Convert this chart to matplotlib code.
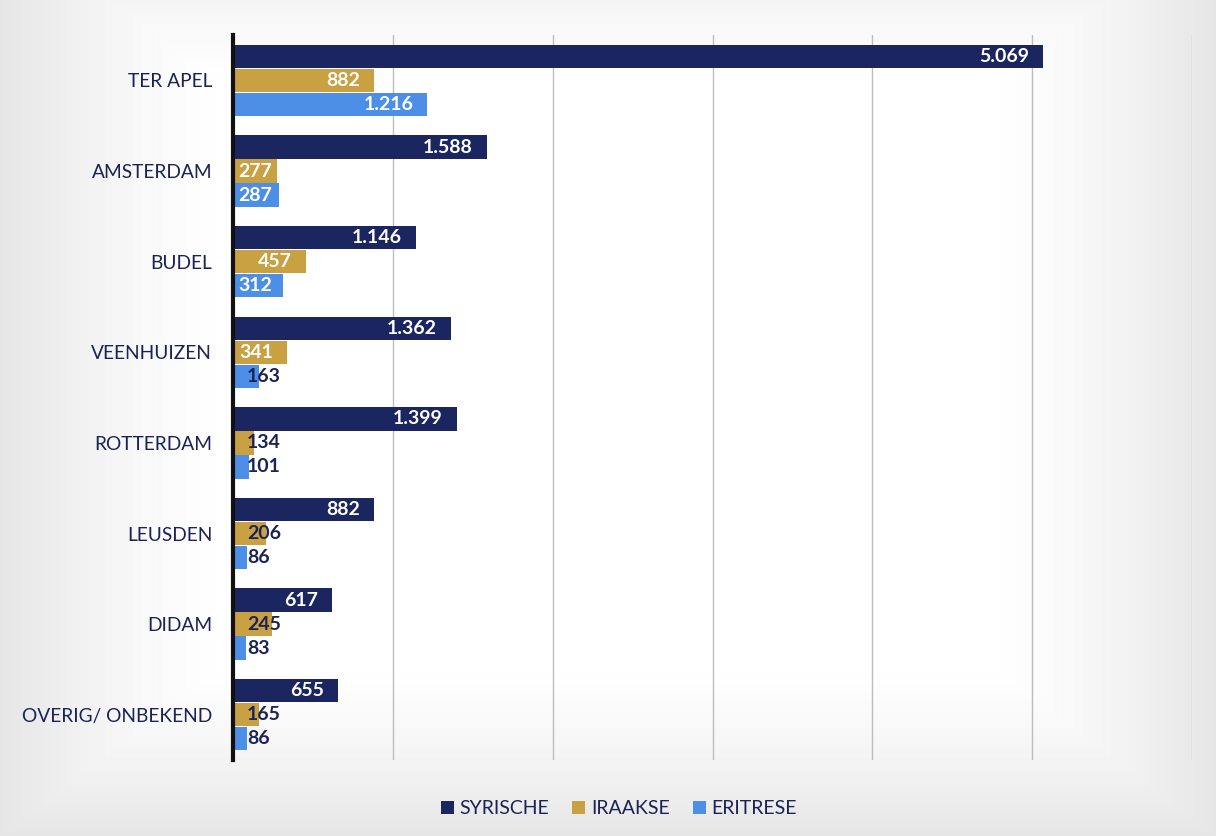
import matplotlib
matplotlib.use('Agg')
import matplotlib.pyplot as plt
import numpy as np

locaties = ['TER APEL', 'AMSTERDAM', 'BUDEL', 'VEENHUIZEN', 'ROTTERDAM',
            'LEUSDEN', 'DIDAM', 'OVERIG/ ONBEKEND']
syrische = [5069, 1588, 1146, 1362, 1399, 882, 617, 655]
iraakse = [882, 277, 457, 341, 134, 206, 245, 165]
eritrese = [1216, 287, 312, 163, 101, 86, 83, 86]
reeksen = ['SYRISCHE', 'IRAAKSE', 'ERITRESE']
kleuren = ['#1b2660', '#c9a042', '#4d8ee6']
navy = '#1b2256'

plt.rcParams['font.family'] = ['Lato', 'DejaVu Sans']

def nl(v):
	# dutch thousands separator
	return '{:,}'.format(v).replace(',', '.')

fig = plt.figure(figsize=(12.16, 8.36), dpi=100)

# scanned-page look: grey edges, white middle
bg = fig.add_axes([0, 0, 1, 1], zorder=-10)
yy, xx = np.mgrid[0:1:200j, 0:1:300j]
d = np.maximum(np.abs(xx - 0.5) / 0.5, np.abs(yy - 0.45) / 0.55)
vals = 1.0 - 0.10 * np.clip((d - 0.6) / 0.4, 0, 1) ** 1.5
bg.imshow(vals, cmap='gray', vmin=0, vmax=1, aspect='auto', extent=[0, 1, 0, 1])
bg.axis('off')

ax = fig.add_axes([0.1916, 0.0909, 0.7887, 0.867])
ax.patch.set_alpha(0)

y = np.arange(len(locaties))
h = 0.26
pitch = 0.265
data = [syrische, iraakse, eritrese]
ax.set_xlim(0, 6000)
ax.set_ylim(len(locaties) - 0.5, -0.5)

fig.canvas.draw()
r = fig.canvas.get_renderer()
upp = 6000 / ax.get_window_extent(r).width  # data units per pixel
for i, (serie, naam, kleur) in enumerate(zip(data, reeksen, kleuren)):
	pos = y + (i - 1) * pitch
	ax.barh(pos, serie, height=h, color=kleur, label=naam, zorder=3)
	for p, v in zip(pos, serie):
		t = ax.text(0, p, nl(v), ha='left', va='center', color='white',
			fontsize=14, fontweight='bold', zorder=4)
		w = t.get_window_extent(r).width * upp
		left = max(v - 14 * upp - w, 5 * upp)
		if left + w + 3 * upp <= v:
			t.set_x(left)
		else:
			# label too wide for the bar: dark, next to the axis
			t.set_x(14 * upp)
			t.set_color(navy)

ax.set_xticks(np.arange(0, 6001, 1000))
ax.set_xticklabels([])
ax.tick_params(axis='x', length=0)
ax.tick_params(axis='y', length=0, pad=15, labelsize=13.8, labelcolor=navy)
ax.set_yticks(y)
ax.set_yticklabels(locaties)
ax.grid(axis='x', color='#bdbdbd', linewidth=1, zorder=0)
for s in ['top', 'right', 'bottom']:
	ax.spines[s].set_visible(False)
ax.spines['left'].set_linewidth(3)
ax.spines['left'].set_color('#111111')
ax.spines['left'].set_zorder(5)

leg = fig.legend(loc='center', bbox_to_anchor=(0.509, 0.033), ncol=3, frameon=False,
	fontsize=14, handlelength=0.65, handleheight=0.65, handletextpad=0.3,
	columnspacing=1.2)
for t in leg.get_texts():
	t.set_color(navy)

fig.savefig('out.png', dpi=100)
